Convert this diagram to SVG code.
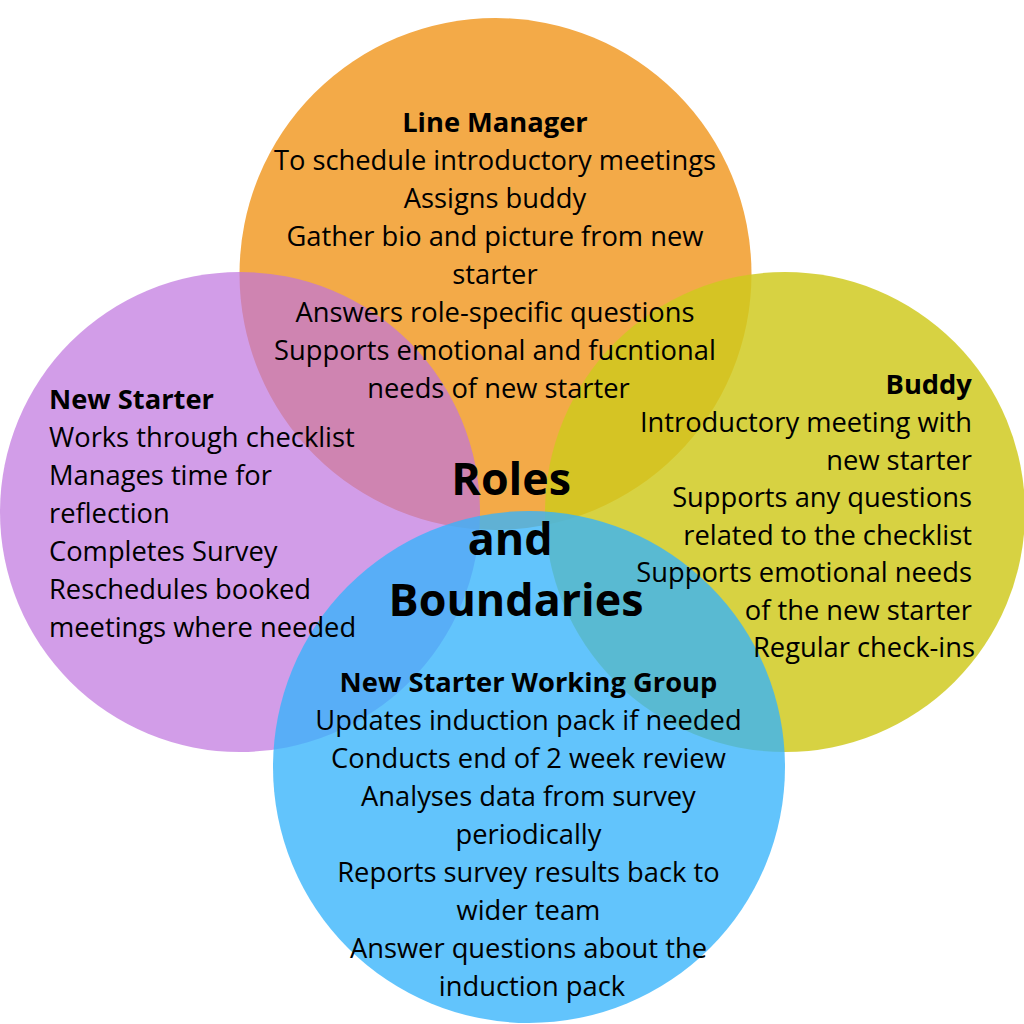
<svg xmlns="http://www.w3.org/2000/svg" width="1024" height="1024" viewBox="0 0 1024 1024">
<style>
.t{font-family:"Open Sans","DejaVu Sans",sans-serif;font-size:27.3px;fill:#000}
.b{font-weight:bold}
.c{text-anchor:middle}
.r{text-anchor:end}
.title{font-family:"Open Sans","DejaVu Sans",sans-serif;font-size:44.8px;font-weight:bold;fill:#000;text-anchor:middle}
</style>
<rect width="1024" height="1024" fill="#ffffff"/>
<g id="line-manager">
<circle cx="495.5" cy="274" r="256" fill="#F3AA48"/>
</g>
<g id="new-starter">
<circle cx="240" cy="512" r="240" fill="#BF73DE" fill-opacity="0.7"/>
</g>
<g id="buddy">
<circle cx="785" cy="512" r="240" fill="#CFC91E" fill-opacity="0.84"/>
</g>
<g id="working-group">
<circle cx="529" cy="767" r="256" fill="#36B3FB" fill-opacity="0.78"/>
</g>
<g id="connectors"></g>
<g id="labels">
<text class="t c" x="498.5">
<tspan class="b" x="498.5" y="132">Line Manager</tspan>
<tspan x="498.5" y="170">To schedule introductory meetings</tspan>
<tspan x="498.5" y="208">Assigns buddy</tspan>
<tspan x="498.5" y="246">Gather bio and picture from new</tspan>
<tspan x="498.5" y="284">starter</tspan>
<tspan x="498.5" y="322">Answers role-specific questions</tspan>
<tspan x="498.5" y="360">Supports emotional and fucntional</tspan>
<tspan x="498.5" y="398">needs of new starter</tspan>
</text>
<text class="t" x="49">
<tspan class="b" x="49" y="409">New Starter</tspan>
<tspan x="49" y="447">Works through checklist</tspan>
<tspan x="49" y="485">Manages time for</tspan>
<tspan x="49" y="523">reflection</tspan>
<tspan x="49" y="561">Completes Survey</tspan>
<tspan x="49" y="599">Reschedules booked</tspan>
<tspan x="49" y="637">meetings where needed</tspan>
</text>
<text class="t r" x="979">
<tspan class="b" x="979" y="394">Buddy</tspan>
<tspan x="979" y="432">Introductory meeting with</tspan>
<tspan x="979" y="470">new starter</tspan>
<tspan x="979" y="507">Supports any questions</tspan>
<tspan x="979" y="545">related to the checklist</tspan>
<tspan x="979" y="582">Supports emotional needs</tspan>
<tspan x="979" y="620">of the new starter</tspan>
<tspan x="975" y="657">Regular check-ins</tspan>
</text>
<text class="t c" x="532">
<tspan class="b" x="532" y="692">New Starter Working Group</tspan>
<tspan x="532" y="730">Updates induction pack if needed</tspan>
<tspan x="532" y="768">Conducts end of 2 week review</tspan>
<tspan x="532" y="806">Analyses data from survey</tspan>
<tspan x="532" y="844">periodically</tspan>
<tspan x="532" y="882">Reports survey results back to</tspan>
<tspan x="532" y="920">wider team</tspan>
<tspan x="532" y="958">Answer questions about the</tspan>
<tspan x="532" y="996">induction pack</tspan>
</text>
<text class="title">
<tspan x="517" y="495">Roles</tspan>
<tspan x="516" y="555">and</tspan>
<tspan x="516" y="616">Boundaries</tspan>
</text>
</g>
</svg>
